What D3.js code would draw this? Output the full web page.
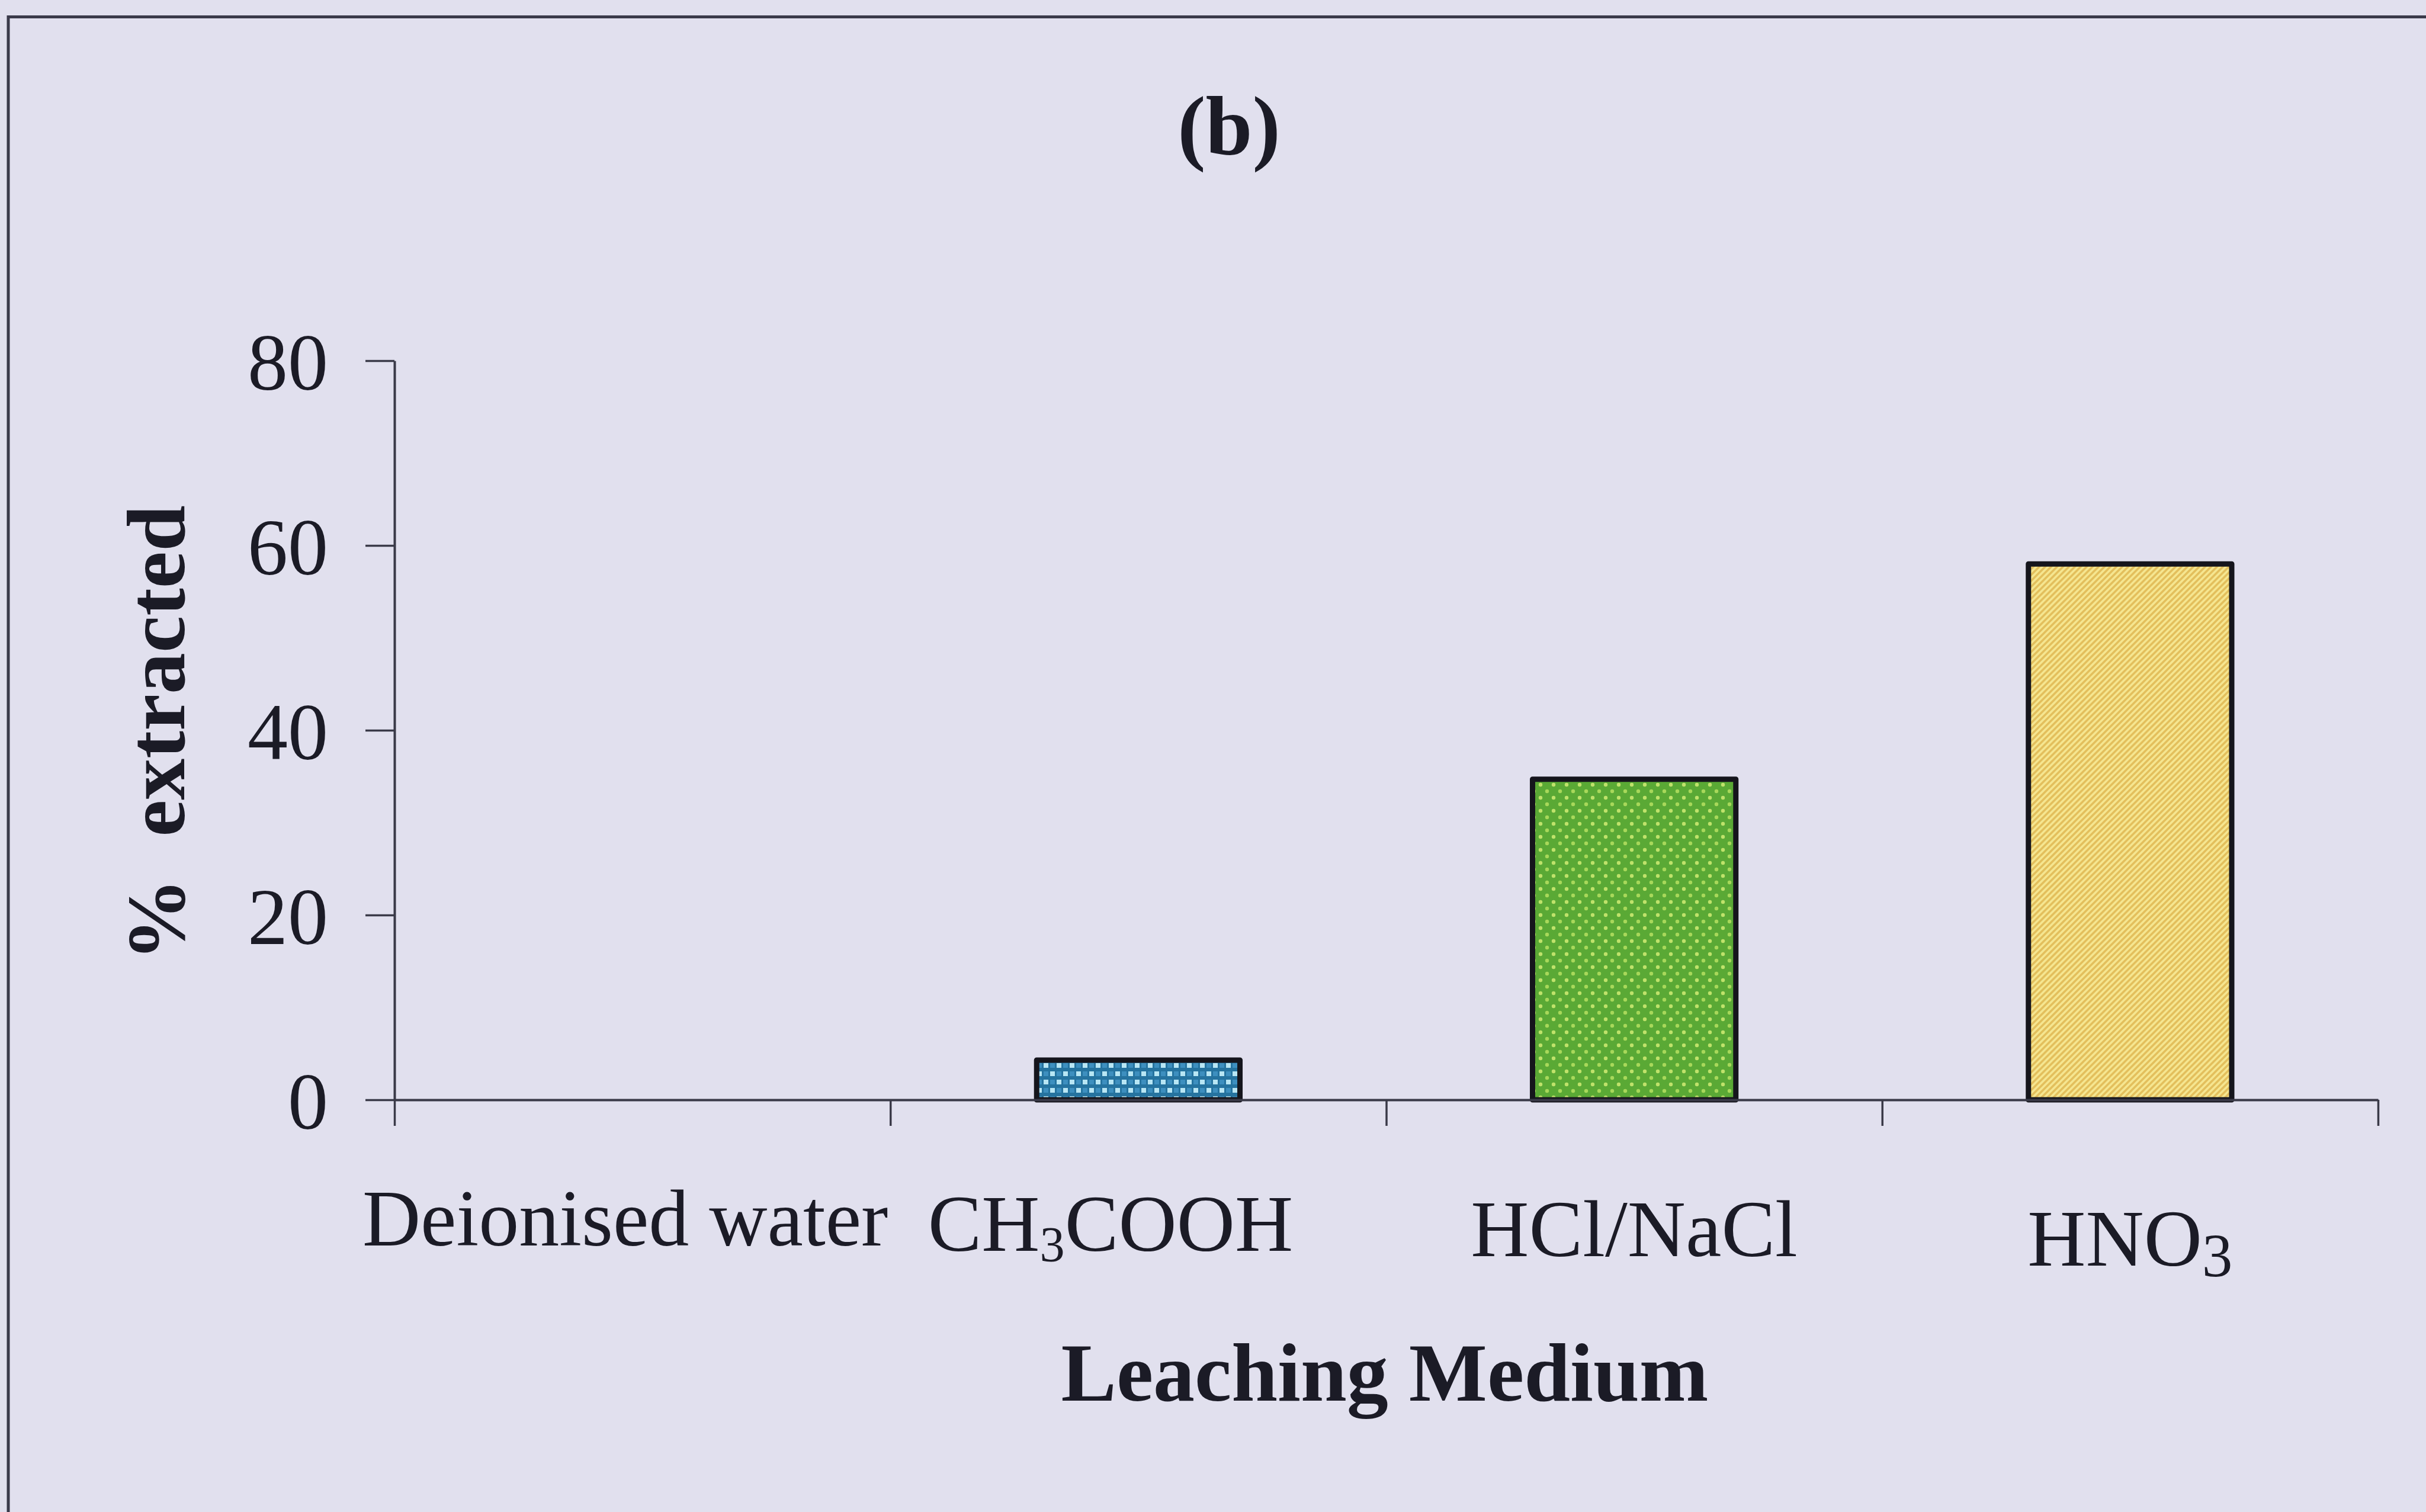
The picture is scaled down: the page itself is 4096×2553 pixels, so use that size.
<!DOCTYPE html>
<html>
<head>
<meta charset="utf-8">
<script src="https://cdn.jsdelivr.net/npm/d3@7"></script>
<style>
  html, body { margin: 0; padding: 0; background: #e1e0ee; }
  svg { display: block; }
  text { font-family: "Liberation Serif", "Times New Roman", serif; fill: #1b1b26; }
</style>
</head>
<body>
<div id="chart"></div>
<script>
"use strict";

// Categories (leaching media), with the subscript part split out.
let categories = ["Deionised water", "CH3COOH", "HCl/NaCl", "HNO3"];
let labelParts = [
    [["Deionised water", false]],
    [["CH", false], ["3", true], ["COOH", false]],
    [["HCl/NaCl", false]],
    [["HNO", false], ["3", true]]
];
// Percentage extracted for each medium.
let extracted = [0, 4.3, 34.7, 58.0];
// Y tick labels.
let yTicks = [0, 20, 40, 60, 80];

// Fill pattern for each bar.
let patternIds = ["none", "checkBlue", "dotGreen", "stripeYellow"];

let width = 4096, height = 2553;
let plotLeft = 666, plotRight = 4015, plotTop = 609, plotBottom = 1857;

let svg = d3.select("#chart").append("svg")
    .attr("width", width)
    .attr("height", height);

svg.append("rect")
    .attr("width", width)
    .attr("height", height)
    .attr("fill", "#e1e0ee");

// Patterns for the bar fills.
let defs = svg.append("defs");

let pBlue = defs.append("pattern")
    .attr("id", "checkBlue")
    .attr("patternUnits", "userSpaceOnUse")
    .attr("width", 22).attr("height", 28);
pBlue.append("rect").attr("width", 22).attr("height", 28).attr("fill", "#25739f");
pBlue.append("rect").attr("x", 2).attr("y", 3).attr("width", 8).attr("height", 8).attr("fill", "#b8e6f4");
pBlue.append("rect").attr("x", 13).attr("y", 17).attr("width", 8).attr("height", 8).attr("fill", "#b8e6f4");
pBlue.append("rect").attr("x", 13).attr("y", 3).attr("width", 8).attr("height", 8).attr("fill", "#3d8fbf");
pBlue.append("rect").attr("x", 2).attr("y", 17).attr("width", 8).attr("height", 8).attr("fill", "#3d8fbf");

let pGreen = defs.append("pattern")
    .attr("id", "dotGreen")
    .attr("patternUnits", "userSpaceOnUse")
    .attr("width", 22).attr("height", 22);
pGreen.append("rect").attr("width", 22).attr("height", 22).attr("fill", "#5aa935");
pGreen.append("circle").attr("cx", 5).attr("cy", 5).attr("r", 3.2).attr("fill", "#bfe26a");
pGreen.append("circle").attr("cx", 16).attr("cy", 16).attr("r", 3.2).attr("fill", "#a8d85a");

let pYellow = defs.append("pattern")
    .attr("id", "stripeYellow")
    .attr("patternUnits", "userSpaceOnUse")
    .attr("width", 10).attr("height", 10);
pYellow.append("rect").attr("width", 10).attr("height", 10).attr("fill", "#f5e690");
pYellow.append("path")
    .attr("d", "M-2,12 L12,-2 M-2,2 L2,-2 M8,12 L12,8")
    .attr("stroke", "#e3bf5c")
    .attr("stroke-width", 3.5);

// Frame lines (top and left, as in the scan).
svg.append("path")
    .attr("d", "M14," + height + " L14,28.5 L" + width + ",28.5")
    .attr("fill", "none")
    .attr("stroke", "#3a3a4a")
    .attr("stroke-width", 5);

// Scales.
let x = d3.scaleBand().domain(categories).range([plotLeft, plotRight]).padding(0);
let xEdge = d3.scaleLinear().domain([0, categories.length]).range([plotLeft, plotRight]);
let y = d3.scaleLinear().domain([0, 80]).range([plotBottom, plotTop]);

// Bars.
let barFrac = 0.41;
let bars = categories.map((c, i) => ({cat: c, value: extracted[i], fill: patternIds[i]}));
svg.append("g").selectAll("rect")
    .data(bars.filter(d => d.value > 0))
    .enter().append("rect")
    .attr("x", d => x(d.cat) + x.bandwidth() * (1 - barFrac) / 2)
    .attr("width", x.bandwidth() * barFrac)
    .attr("y", d => y(d.value))
    .attr("height", d => y(0) - y(d.value))
    .attr("fill", d => "url(#" + d.fill + ")")
    .attr("stroke", "#15151c")
    .attr("stroke-width", 9)
    .attr("stroke-linejoin", "round");

// Y axis.
let yAxis = svg.append("g")
    .attr("transform", "translate(" + plotLeft + ",0)")
    .call(d3.axisLeft(y).tickValues(yTicks).tickSize(49).tickSizeOuter(0).tickPadding(63));

// X axis, ticks on the category edges.
let xAxis = svg.append("g")
    .attr("transform", "translate(0," + plotBottom + ")")
    .call(d3.axisBottom(xEdge).tickValues(d3.range(categories.length + 1)).tickSize(44).tickSizeOuter(0).tickFormat(""));

[yAxis, xAxis].forEach(g => {
    g.select(".domain").attr("stroke", "#3a3a48").attr("stroke-width", 4);
    g.selectAll(".tick line").attr("stroke", "#3a3a48").attr("stroke-width", 3.5);
});
yAxis.selectAll(".tick text")
    .style("font-size", "136px")
    .attr("fill", "#1b1b26")
    .attr("dy", "0.36em");

// Category labels (small offsets follow the original placement).
let labelDx = [-29, -47, 0, 0];
let labelY = [2103, 2112, 2121, 2137];
let subSize = [0.62, 0.62, 0.62, 0.76];
let catFont = 136;
categories.forEach((c, i) => {
    let t = svg.append("text")
        .attr("x", x(c) + x.bandwidth() / 2 + labelDx[i])
        .attr("y", labelY[i])
        .attr("text-anchor", "middle")
        .style("font-size", catFont + "px");
    let shifted = false;
    labelParts[i].forEach(p => {
        let ts = t.append("tspan").text(p[0]);
        if (p[1]) {
            ts.style("font-size", (catFont * subSize[i]) + "px").attr("dy", 18);
            shifted = true;
        } else if (shifted) {
            ts.attr("dy", -18);
            shifted = false;
        }
    });
});

// Axis titles and panel label.
svg.append("text")
    .attr("x", 2338)
    .attr("y", 2365)
    .attr("text-anchor", "middle")
    .style("font-size", "140px")
    .style("font-weight", "bold")
    .text("Leaching Medium");

svg.append("text")
    .attr("transform", "translate(311,1238) rotate(-90)")
    .attr("text-anchor", "middle")
    .style("font-size", "140px")
    .style("font-weight", "bold")
    .style("white-space", "pre")
    .text("%  extracted");

svg.append("text")
    .attr("x", 2075)
    .attr("y", 261)
    .attr("text-anchor", "middle")
    .style("font-size", "142px")
    .style("font-weight", "bold")
    .text("(b)");
</script>
</body>
</html>
